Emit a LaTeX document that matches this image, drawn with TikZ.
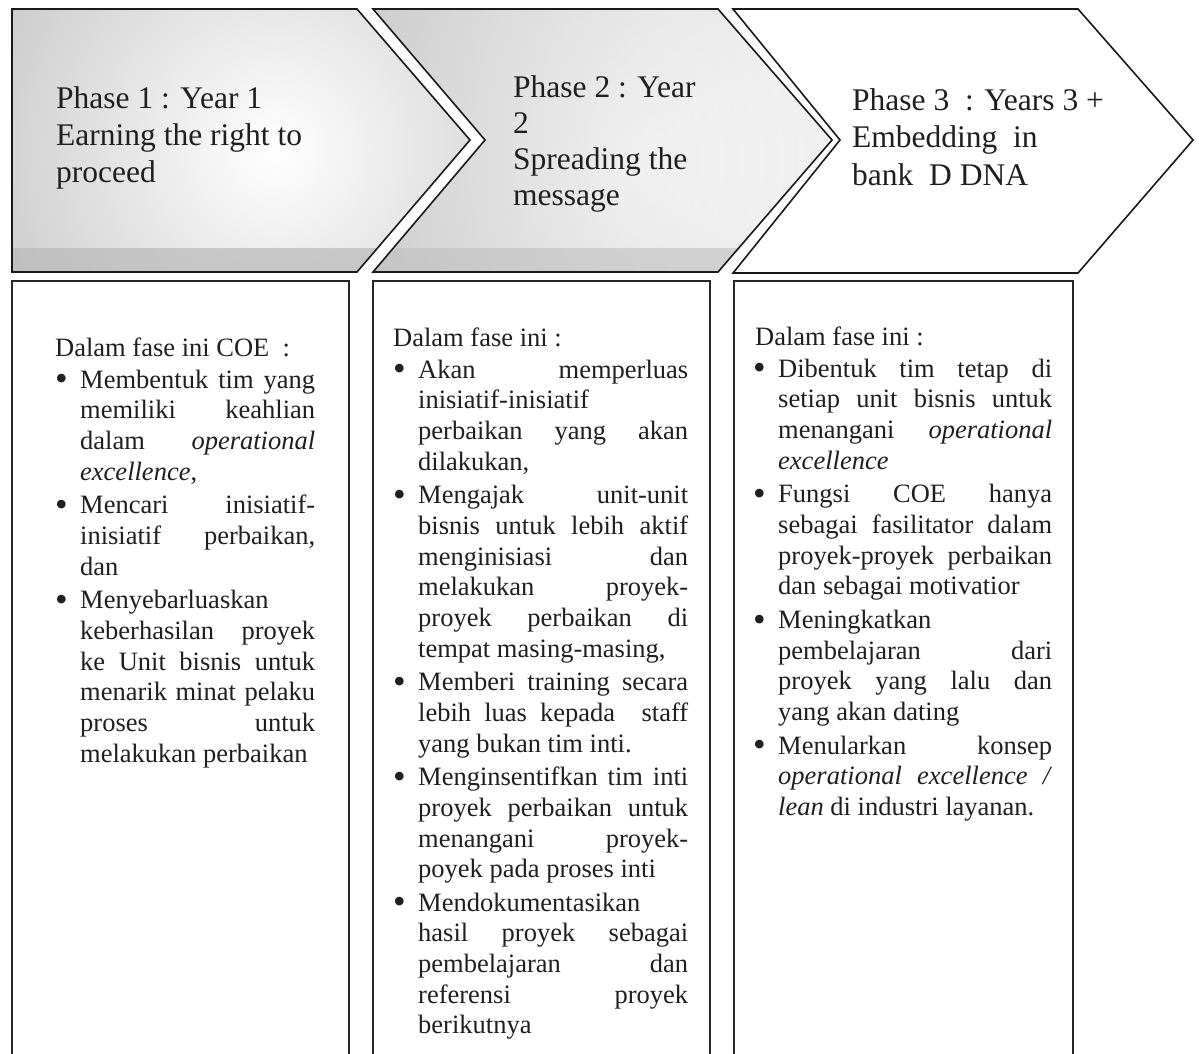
\documentclass[tikz,border=0pt]{standalone}
\usepackage{fontspec}
\setmainfont{Liberation Serif}
\newlength\colw
% justified line of the current column width
\newcommand\jl[1]{\leavevmode\makebox[\colw][s]{\spaceskip=.25em plus 1fil\relax #1}}
% hanging bullet
\newcommand\bul{\leavevmode\llap{\raisebox{-2.6pt}{\fontsize{36}{30}\selectfont\textbullet}\hspace{12.5pt}}}
\begin{document}
\begin{tikzpicture}[x=1pt,y=-1pt,
  chev/.style={draw=black!90, line width=1.6pt, line join=miter},
  colbox/.style={draw=black!85, line width=2.2pt},
  txt/.style={anchor=base west, align=flush left, inner sep=0pt, text=black!88,
    execute at begin node={\spaceskip=0pt\xspaceskip=0pt\relax}},
  head/.style={txt, text width=330pt, font=\fontsize{31.5}{37}\selectfont},
  body/.style={txt, font=\fontsize{26.5}{30.65}\selectfont}]
\useasboundingbox (0,0) rectangle (1199,1053);
\fill[white] (0,0) rectangle (1199,1053);

% ---- phase 1 arrow: grey border fading to a white centre
\begin{scope}
  \clip (12,9) -- (357,9) -- (470,140) -- (357,272) -- (12,272) -- cycle;
  \fill[gray!62] (0,0) rectangle (480,280);
  \shade[inner color=white, outer color=gray!62] (275,150) circle (470);
  \fill[gray!55, opacity=0.7] (0,248) rectangle (480,280);
\end{scope}
\draw[chev] (12,9) -- (357,9) -- (470,140) -- (357,272) -- (12,272) -- cycle;

% ---- phase 2 arrow: grey on the left, lighter to the right
\begin{scope}
  \clip (373,9) -- (718,9) -- (832,140) -- (718,272) -- (373,272) -- (485,140) -- cycle;
  \shade[left color=gray!60, right color=gray!5] (373,0) rectangle (832,280);
  \shade[inner color=white, outer color=gray!30, opacity=0.6] (640,160) circle (380);
  \fill[gray!50, opacity=0.6] (360,248) rectangle (840,280);
\end{scope}
\draw[chev] (373,9) -- (718,9) -- (832,140) -- (718,272) -- (373,272) -- (485,140) -- cycle;

% ---- phase 3 arrow: plain
\draw[chev, fill=white] (733,9) -- (1078,9) -- (1193,140) -- (1078,273) -- (733,273) -- (840,140) -- cycle;

% ---- arrow captions
\node[head] (h1) at (56,108) {Phase 1 : Year 1\\Earning the right to\\proceed};
\node[head, font=\fontsize{31.5}{36}\selectfont] (h2) at (513,97) {Phase 2 : Year\\2\\Spreading the\\message};
\node[head, font=\fontsize{31.5}{37.5}\selectfont] (h3) at (852,110) {Phase 3\ \ : Years 3 +\\Embedding\ \ in\\bank\ \ D DNA};

% ---- column frames (open at the bottom)
\draw[colbox] (12,1060) -- (12,281) -- (349,281) -- (349,1060);
\draw[colbox] (373,1060) -- (373,281) -- (710,281) -- (710,1060);
\draw[colbox] (734,1060) -- (734,281) -- (1073,281) -- (1073,1060);

% ---- column 1
\node[body, text width=235pt] (c1) at (80,356) {\setlength\colw{235pt}%
\hspace*{-25pt}Dalam fase ini COE\ \ :\\[1.6pt]
\bul\jl{Membentuk tim yang}\\
\jl{memiliki keahlian}\\
\jl{dalam \textit{operational}}\\
\textit{excellence},\\[3pt]
\bul\jl{Mencari inisiatif-}\\
\jl{inisiatif perbaikan,}\\
dan\\[3pt]
\bul Menyebarluaskan\\
\jl{keberhasilan proyek}\\
\jl{ke Unit bisnis untuk}\\
\jl{menarik minat pelaku}\\
\jl{proses untuk}\\
melakukan perbaikan};

% ---- column 2
\node[body, text width=270pt] (c2) at (418,346) {\setlength\colw{270pt}%
\hspace*{-25pt}Dalam fase ini :\\[1.6pt]
\bul\jl{Akan memperluas}\\
inisiatif-inisiatif\\
\jl{perbaikan yang akan}\\
dilakukan,\\[3pt]
\bul\jl{Mengajak unit-unit}\\
\jl{bisnis untuk lebih aktif}\\
\jl{menginisiasi dan}\\
\jl{melakukan proyek-}\\
\jl{proyek perbaikan di}\\
tempat masing-masing,\\[3pt]
\bul\jl{Memberi training secara}\\
\jl{lebih luas kepada\ \ staff}\\
yang bukan tim inti.\\[3pt]
\bul\jl{Menginsentifkan tim inti}\\
\jl{proyek perbaikan untuk}\\
\jl{menangani proyek-}\\
poyek pada proses inti\\[3pt]
\bul Mendokumentasikan\\
\jl{hasil proyek sebagai}\\
\jl{pembelajaran dan}\\
\jl{referensi proyek}\\
berikutnya};

% ---- column 3
\node[body, text width=274pt] (c3) at (778,345) {\setlength\colw{274pt}%
\hspace*{-23pt}Dalam fase ini :\\[1.6pt]
\bul\jl{Dibentuk tim tetap di}\\
\jl{setiap unit bisnis untuk}\\
\jl{menangani \textit{operational}}\\
\textit{excellence}\\[3pt]
\bul\jl{Fungsi COE hanya}\\
\jl{sebagai fasilitator dalam}\\
\jl{proyek-proyek perbaikan}\\
dan sebagai motivatior\\[3pt]
\bul Meningkatkan\\
\jl{pembelajaran dari}\\
\jl{proyek yang lalu dan}\\
yang akan dating\\[3pt]
\bul\jl{Menularkan konsep}\\
\jl{\textit{operational excellence /}}\\
\textit{lean} di industri layanan.};
\end{tikzpicture}
\end{document}
